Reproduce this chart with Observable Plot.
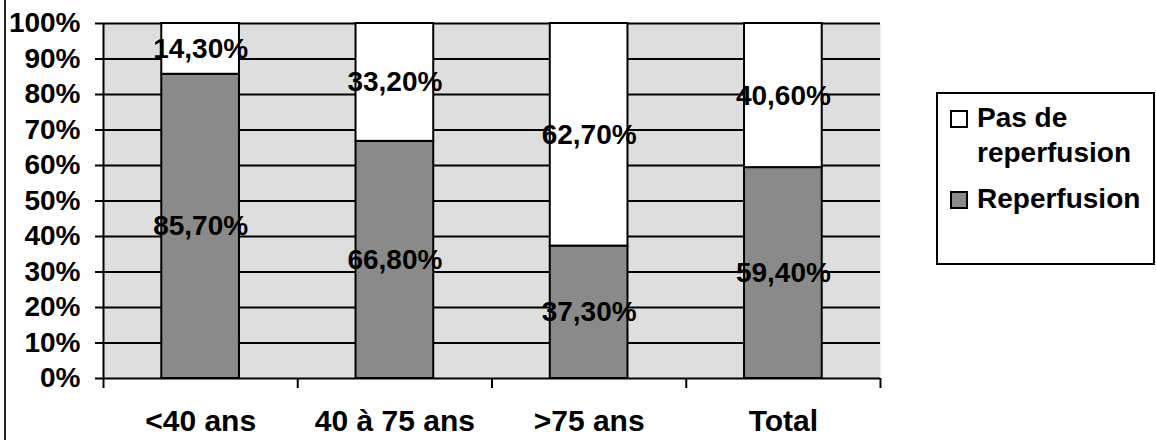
<!DOCTYPE html>
<html><head><meta charset="utf-8">
<script src="https://cdn.jsdelivr.net/npm/d3@7"></script>
<script src="https://cdn.jsdelivr.net/npm/@observablehq/plot@0.6"></script>
<style>
body{margin:0;background:#fff;}
#wrap{position:relative;width:1156px;height:440px;overflow:hidden;font-family:"Liberation Sans",Arial,sans-serif;font-weight:bold;color:#000;}
#chart{position:absolute;left:0;top:0;}
#edge{position:absolute;left:4px;top:0;width:2px;height:440px;background:#222;}
#legend{position:absolute;left:936px;top:92px;width:215px;height:169px;border:2px solid #000;background:#fff;}
.item{position:absolute;left:39px;font-size:28px;line-height:35px;white-space:nowrap;}
.sw{position:absolute;left:12px;width:14px;height:14px;border:2px solid #000;}
</style></head>
<body><div id="wrap"><div id="chart"></div><div id="edge"></div><div id="legend"></div></div>
<script>
// ---- data ----
const categories = ["<40 ans", "40 à 75 ans", ">75 ans", "Total"];
const reperfusion = [85.7, 66.8, 37.3, 59.4];
const pasDeReperfusion = [14.3, 33.2, 62.7, 40.6];
const yTicks = [0, 10, 20, 30, 40, 50, 60, 70, 80, 90, 100];
const seriesNames = ["Pas de reperfusion", "Reperfusion"];

// ---- styles ----
const fills = {"Reperfusion": "#8a8a8a", "Pas de reperfusion": "#ffffff"};
const bgFill = "#dedede";

const rows = [];
categories.forEach((c, i) => {
  rows.push({cat: c, i, series: "Reperfusion", y1: 0, y2: reperfusion[i], value: reperfusion[i]});
  rows.push({cat: c, i, series: "Pas de reperfusion", y1: reperfusion[i], y2: reperfusion[i] + pasDeReperfusion[i], value: pasDeReperfusion[i]});
});
const fmt = v => v.toFixed(2).replace(".", ",") + "%";
const boundaries = d3.range(categories.length + 1);
const centers = categories.map((c, i) => i + 0.5);

const chart = Plot.plot({
  width: 1156,
  height: 440,
  marginLeft: 103,
  marginRight: 276,
  marginTop: 23,
  marginBottom: 62,
  style: {fontFamily: "'Liberation Sans', Arial, sans-serif", fontWeight: "bold", fontSize: "28px", color: "#000", background: "transparent", overflow: "visible"},
  x: {type: "linear", domain: [0, categories.length]},
  y: {domain: [0, 100]},
  marks: [
    Plot.frame({fill: bgFill, stroke: null}),
    Plot.ruleY(yTicks, {stroke: "#000", strokeWidth: 2}),
    Plot.rectY(rows, {x1: d => d.i + 0.3, x2: d => d.i + 0.7, y1: "y1", y2: "y2", fill: d => fills[d.series], stroke: "#000", strokeWidth: 2}),
    Plot.ruleX([0], {stroke: "#000", strokeWidth: 2}),
    Plot.axisY({ticks: yTicks, tickSize: 8, tickPadding: 15, strokeWidth: 2, tickFormat: d => d + "%", label: null}),
    Plot.axisX({ticks: boundaries, tickSize: 10, strokeWidth: 2, tickFormat: () => "", label: null}),
    Plot.axisX({ticks: centers, tickSize: 0, tickPadding: 31, fontSize: 30, tickFormat: d => categories[Math.floor(d)], label: null}),
    Plot.text(rows, {x: d => d.i + 0.5, y: d => (d.y1 + d.y2) / 2, text: d => fmt(d.value), fill: "#000", fontSize: 28, fontWeight: "bold"})
  ]
});
document.getElementById("chart").appendChild(chart);

// ---- legend ----
const legend = document.getElementById("legend");
const legendLayout = [
  {name: seriesNames[0], lines: ["Pas de", "reperfusion"], top: 6, swTop: 16},
  {name: seriesNames[1], lines: ["Reperfusion"], top: 87, swTop: 97}
];
legendLayout.forEach(e => {
  const sw = document.createElement("div");
  sw.className = "sw";
  sw.style.top = e.swTop + "px";
  sw.style.background = fills[e.name];
  legend.appendChild(sw);
  const t = document.createElement("div");
  t.className = "item";
  t.style.top = e.top + "px";
  t.innerHTML = e.lines.join("<br>");
  legend.appendChild(t);
});
</script>
</body></html>
